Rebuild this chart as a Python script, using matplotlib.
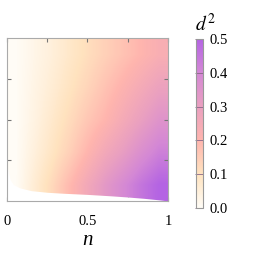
import numpy as np
import matplotlib
matplotlib.use('Agg')
import matplotlib.pyplot as plt
from matplotlib.colors import LinearSegmentedColormap

plt.rcParams['font.family'] = 'Liberation Serif'
plt.rcParams['mathtext.fontset'] = 'stix'

# d^2 on a coarse grid (rows: y from bottom to top)
n_werte = [0.0, 0.125, 0.25, 0.375, 0.5, 0.625, 0.75, 0.875, 1.0]
y_werte = [0.0, 0.25, 0.5, 0.75, 1.0]
d2 = [
    [0.0, 0.06, 0.12, 0.19, 0.26, 0.33, 0.39, 0.45, 0.50],
    [0.0, 0.045, 0.09, 0.14, 0.20, 0.26, 0.31, 0.37, 0.42],
    [0.0, 0.035, 0.075, 0.115, 0.16, 0.20, 0.25, 0.30, 0.35],
    [0.0, 0.03, 0.06, 0.095, 0.13, 0.17, 0.21, 0.25, 0.29],
    [0.0, 0.025, 0.05, 0.08, 0.11, 0.14, 0.17, 0.20, 0.23],
]

# untere Grenze des gefaerbten Bereichs
rand_n = [0.0, 0.01, 0.02, 0.04, 0.08, 0.15, 0.25, 0.35, 0.5, 0.65, 0.75, 0.85, 0.95, 1.0]
rand_y = [0.22, 0.17, 0.13, 0.10, 0.08, 0.063, 0.053, 0.047, 0.040, 0.031, 0.024, 0.016, 0.006, 0.0]

farben = ['#fffcf6', '#ffe3bf', '#ffb5ae', '#eaa0c0', '#d488d5', '#b464e3']
cmap = LinearSegmentedColormap.from_list('d2', farben)

fig = plt.figure(figsize=(2.69, 2.54), dpi=100)
ax = fig.add_axes([0.026, 0.209, 0.5985, 0.641])
cax = fig.add_axes([0.7286, 0.181, 0.026, 0.665])

bild = ax.imshow(np.array(d2), extent=[n_werte[0], n_werte[-1], y_werte[0], y_werte[-1]],
                 origin='lower', aspect='auto', cmap=cmap, vmin=0, vmax=0.5,
                 interpolation='bilinear')
ax.fill_between(rand_n, 0, rand_y, color='white', lw=0, zorder=2)
ax.set_xlim(0, 1)
ax.set_ylim(0, 1)

ax.set_xticks([0, 0.25, 0.5, 0.75, 1])
ax.set_xticklabels(['0', '', '0.5', '', '1'])
ax.set_yticks([0.25, 0.5, 0.75])
ax.set_yticklabels([])
ax.tick_params(direction='in', top=True, right=True, length=3, color='#777777',
               labelsize=10.5, pad=10)
for s in ax.spines.values():
    s.set_color('#aaaaaa')
    s.set_zorder(3)
ax.set_xlabel('n', fontsize=15, fontstyle='italic', labelpad=2)

cb = fig.colorbar(bild, cax=cax, ticks=[0, 0.1, 0.2, 0.3, 0.4, 0.5])
cb.ax.set_yticklabels(['0.0', '0.1', '0.2', '0.3', '0.4', '0.5'])
cb.ax.tick_params(direction='in', length=6, color='#886688', labelsize=10.5, pad=5, width=0.6)
cb.outline.set_edgecolor('#999999')
cb.outline.set_linewidth(0.8)
fig.text(0.762, 0.905, '$d^2$', fontsize=14, ha='center', va='center')

fig.savefig('out.png', dpi=100)
